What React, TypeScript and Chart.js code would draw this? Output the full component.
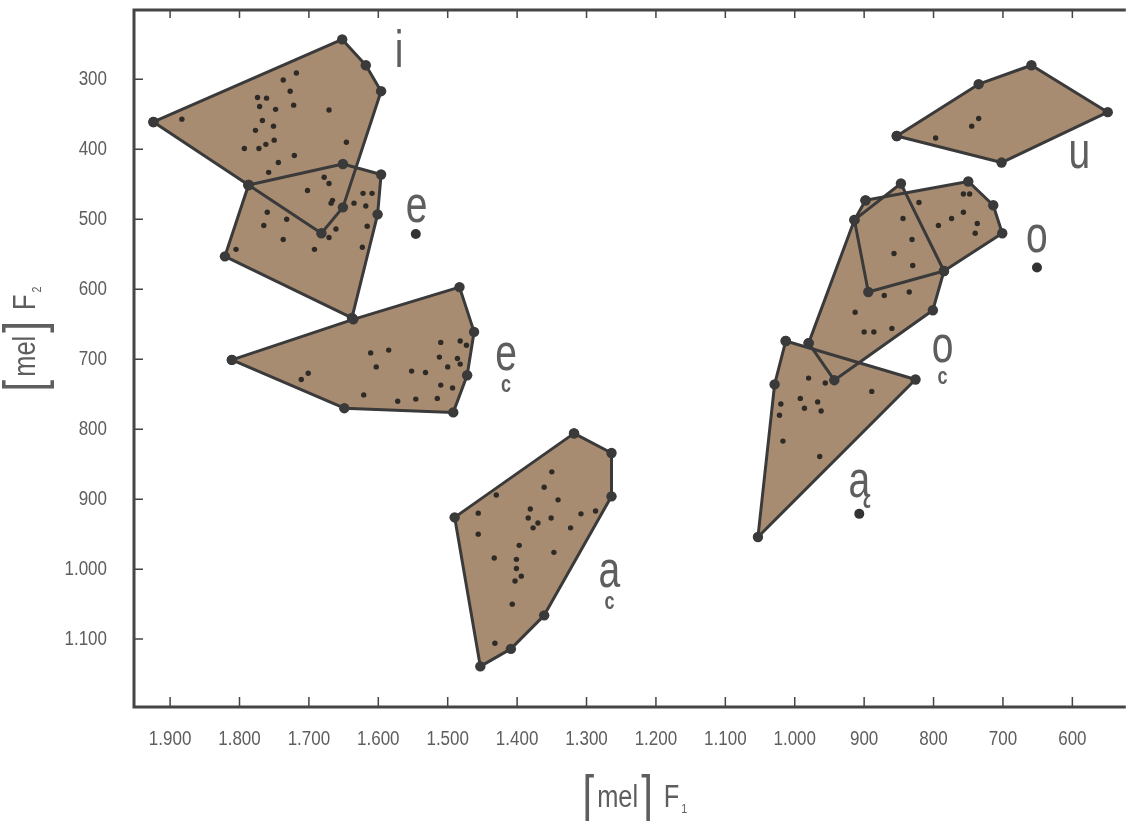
import React, { useEffect, useRef } from "react";
import { Chart, registerables } from "chart.js";

Chart.register(...registerables);

const FONT = '"Liberation Sans", "DejaVu Sans Condensed", sans-serif';
const FILL = "rgb(168,140,114)";
const EDGE = "#3a3a3a";
const AXIS = "#454545";
const TEXT = "#5e5e5e";

// Axis ticks
const xTickValues = [1900, 1800, 1700, 1600, 1500, 1400, 1300, 1200, 1100, 1000, 900, 800, 700, 600];
const xTickLabels = ["1.900", "1.800", "1.700", "1.600", "1.500", "1.400", "1.300", "1.200", "1.100", "1.000", "900", "800", "700", "600"];
const yTickValues = [300, 400, 500, 600, 700, 800, 900, 1000, 1100];
const yTickLabels = ["300", "400", "500", "600", "700", "800", "900", "1.000", "1.100"];

// Hull vertices (F1, F2 in mel)
const iHullF1 = [1924, 1652, 1618, 1596, 1651, 1682, 1787];
const iHullF2 = [361, 243, 280, 317, 483, 520, 451];
const eHullF1 = [1787, 1651, 1596, 1601, 1638, 1821];
const eHullF2 = [451, 421, 436, 493, 641, 553];
const eOpenHullF1 = [1811, 1636, 1483, 1462, 1472, 1492, 1649];
const eOpenHullF2 = [701, 643, 597, 661, 723, 776, 770];
const aOpenHullF1 = [1318, 1264, 1264, 1361, 1409, 1453, 1490];
const aOpenHullF2 = [806, 834, 896, 1066, 1114, 1139, 926];
const aHullF1 = [1013, 826, 1053, 1029];
const aHullF2 = [674, 729, 954, 736];
const oOpenHullF1 = [980, 914, 847, 785, 801, 943];
const oOpenHullF2 = [677, 501, 449, 574, 630, 730];
const oHullF1 = [898, 750, 714, 701, 785, 894, 914];
const oHullF2 = [473, 446, 480, 520, 574, 604, 501];
const uHullF1 = [853, 735, 659, 549, 702];
const uHullF2 = [381, 307, 280, 347, 419];

// Individual tokens
const iTokF1 = [1883, 1718, 1737, 1727, 1774, 1761, 1771, 1748, 1722, 1671, 1767, 1751, 1777, 1750, 1762, 1772, 1793, 1721, 1744, 1758, 1646];
const iTokF2 = [357, 291, 301, 317, 326, 327, 339, 343, 337, 344, 359, 367, 373, 387, 393, 399, 399, 409, 419, 433, 390];
const eTokF1 = [1678, 1671, 1702, 1622, 1609, 1666, 1668, 1635, 1618, 1760, 1732, 1765, 1661, 1671, 1616, 1737, 1805, 1692, 1623];
const eTokF2 = [440, 449, 459, 463, 463, 473, 477, 477, 481, 490, 500, 509, 514, 526, 510, 529, 543, 543, 540];
const eOpenTokF1 = [1701, 1711, 1611, 1585, 1603, 1510, 1482, 1473, 1512, 1486, 1482, 1500, 1552, 1532, 1510, 1493, 1621, 1572, 1546, 1515];
const eOpenTokF2 = [720, 729, 691, 687, 711, 676, 674, 680, 697, 699, 707, 711, 717, 719, 737, 741, 751, 760, 757, 756];
const aOpenTokF1 = [1350, 1361, 1341, 1430, 1456, 1381, 1384, 1370, 1377, 1351, 1308, 1287, 1323, 1456, 1397, 1347, 1433, 1401, 1401, 1394, 1403, 1407, 1432];
const aOpenTokF2 = [861, 883, 901, 894, 920, 914, 927, 934, 941, 927, 921, 917, 941, 950, 966, 976, 984, 986, 999, 1010, 1017, 1050, 1106];
const aTokF1 = [980, 956, 889, 992, 967, 986, 962, 1020, 1022, 1017, 964];
const aTokF2 = [727, 734, 746, 756, 761, 770, 774, 764, 780, 817, 839];
const oOpenTokF1 = [900, 886, 860, 871, 835, 913];
const oOpenTokF2 = [661, 661, 656, 609, 604, 633];
const oTokF1 = [821, 844, 831, 857, 830, 757, 748, 774, 757, 793, 737, 740];
const oTokF2 = [476, 499, 529, 549, 566, 464, 464, 499, 490, 509, 506, 520];
const uTokF1 = [735, 745, 797];
const uTokF2 = [356, 367, 384];

// Isolated mean markers
const meanF1 = [1546, 907, 651];
const meanF2 = [521, 921, 569];

// Vowel labels
const vowelLabels = ["i", "e", "e", "a", "ą", "o", "o", "u"];
const vowelMarks = ["", "", "c", "c", "", "c", "", ""];
const labelF1 = [1570, 1545, 1416, 1267, 907, 787, 651, 590];
const labelF2 = [283, 504, 716, 1026, 897, 704, 547, 427];

const pts = (f1: number[], f2: number[]) => f1.map((x, i) => ({ x, y: f2[i] }));
const closed = (f1: number[], f2: number[]) => {
  const p = pts(f1, f2);
  p.push(p[0]);
  return p;
};

const SQUEEZE = 0.82;

const drawParts = (ctx: CanvasRenderingContext2D, parts: { t: string; size: number; dy: number; gap: number; k: number }[]) => {
  let total = 0;
  const widths = parts.map((p) => {
    ctx.font = `${p.size}px ${FONT}`;
    const w = ctx.measureText(p.t).width * p.k;
    total += w + p.gap;
    return w;
  });
  let cx = -total / 2;
  parts.forEach((p, i) => {
    ctx.font = `${p.size}px ${FONT}`;
    ctx.save();
    ctx.translate(cx, p.dy);
    ctx.scale(p.k, 1);
    ctx.fillText(p.t, 0, 0);
    ctx.restore();
    cx += widths[i] + p.gap;
  });
};

const squeezedText = (ctx: CanvasRenderingContext2D, t: string, px: number, py: number, k: number) => {
  ctx.save();
  ctx.translate(px, py);
  ctx.scale(k, 1);
  ctx.fillText(t, 0, 0);
  ctx.restore();
};

const decor = {
  id: "decor",
  afterDraw(chart: any) {
    const { ctx, chartArea: a, scales } = chart;
    const x = scales.x;
    const y = scales.y;
    ctx.save();
    // frame
    ctx.strokeStyle = AXIS;
    ctx.lineWidth = 3;
    ctx.beginPath();
    ctx.moveTo(a.right, a.top);
    ctx.lineTo(a.left, a.top);
    ctx.lineTo(a.left, a.bottom);
    ctx.lineTo(a.right, a.bottom);
    ctx.stroke();
    // inward ticks
    ctx.lineWidth = 1.5;
    ctx.beginPath();
    xTickValues.forEach((v) => {
      const px = x.getPixelForValue(v);
      ctx.moveTo(px, a.bottom);
      ctx.lineTo(px, a.bottom - 10);
      ctx.moveTo(px, a.top);
      ctx.lineTo(px, a.top + 8);
    });
    yTickValues.forEach((v) => {
      const py = y.getPixelForValue(v);
      ctx.moveTo(a.left, py);
      ctx.lineTo(a.left + 9, py);
    });
    ctx.stroke();

    // tick labels
    ctx.fillStyle = TEXT;
    ctx.font = `20px ${FONT}`;
    ctx.textBaseline = "middle";
    ctx.textAlign = "center";
    xTickValues.forEach((v, i) => {
      squeezedText(ctx, xTickLabels[i], x.getPixelForValue(v), a.bottom + 32, 0.85);
    });
    ctx.textAlign = "right";
    yTickValues.forEach((v, i) => {
      squeezedText(ctx, yTickLabels[i], a.left - 27, y.getPixelForValue(v), 0.85);
    });

    // vowel labels
    ctx.textAlign = "center";
    ctx.textBaseline = "alphabetic";
    vowelLabels.forEach((t, i) => {
      const px = x.getPixelForValue(labelF1[i]);
      const py = y.getPixelForValue(labelF2[i]);
      ctx.save();
      ctx.translate(px, py);
      ctx.scale(0.75, 1);
      ctx.font = `52px ${FONT}`;
      ctx.fillText(t, 0, 0);
      if (vowelMarks[i]) {
        ctx.font = `bold 24px ${FONT}`;
        ctx.fillText(vowelMarks[i], 0, 22);
      }
      ctx.restore();
    });

    // axis titles
    ctx.textAlign = "left";
    ctx.textBaseline = "alphabetic";
    const titleParts = (sub: string) => [
      { t: "[", size: 56, dy: 17, gap: 3, k: 0.75 },
      { t: "mel", size: 31, dy: 10, gap: 3, k: SQUEEZE },
      { t: "]", size: 56, dy: 17, gap: 11, k: 0.75 },
      { t: "F", size: 31, dy: 10, gap: 2, k: SQUEEZE },
      { t: sub, size: 13, dy: 16, gap: 0, k: SQUEEZE },
    ];
    ctx.save();
    ctx.translate((a.left + a.right) / 2 + 5, 797);
    drawParts(ctx, titleParts("1"));
    ctx.restore();
    ctx.save();
    ctx.translate(25, 339);
    ctx.rotate(-Math.PI / 2);
    drawParts(ctx, titleParts("2"));
    ctx.restore();
    ctx.restore();
  },
};

export default function App() {
  const ref = useRef<HTMLCanvasElement>(null);
  useEffect(() => {
    if (!ref.current) return;
    const hulls = [
      [iHullF1, iHullF2],
      [eHullF1, eHullF2],
      [eOpenHullF1, eOpenHullF2],
      [aOpenHullF1, aOpenHullF2],
      [aHullF1, aHullF2],
      [oOpenHullF1, oOpenHullF2],
      [oHullF1, oHullF2],
      [uHullF1, uHullF2],
    ];
    const tokens = [
      [iTokF1, iTokF2],
      [eTokF1, eTokF2],
      [eOpenTokF1, eOpenTokF2],
      [aOpenTokF1, aOpenTokF2],
      [aTokF1, aTokF2],
      [oOpenTokF1, oOpenTokF2],
      [oTokF1, oTokF2],
      [uTokF1, uTokF2],
    ];
    const datasets: any[] = [];
    hulls.forEach(([f1, f2]) =>
      datasets.push({
        type: "line",
        data: closed(f1, f2),
        showLine: true,
        fill: "shape",
        backgroundColor: FILL,
        borderWidth: 0,
        borderColor: FILL,
        pointRadius: 0,
        tension: 0,
        order: 3,
      })
    );
    hulls.forEach(([f1, f2]) =>
      datasets.push({
        type: "line",
        data: closed(f1, f2),
        showLine: true,
        fill: false,
        borderColor: EDGE,
        borderWidth: 3,
        borderJoinStyle: "round",
        pointRadius: 5.2,
        pointBackgroundColor: EDGE,
        pointBorderWidth: 0,
        tension: 0,
        order: 2,
      })
    );
    tokens.forEach(([f1, f2]) =>
      datasets.push({
        type: "scatter",
        data: pts(f1, f2),
        showLine: false,
        pointRadius: 2.7,
        pointBackgroundColor: "#2e2a26",
        pointBorderWidth: 0,
        order: 1,
      })
    );
    datasets.push({
      type: "scatter",
      data: pts(meanF1, meanF2),
      showLine: false,
      pointRadius: 5,
      pointBackgroundColor: "#333",
      pointBorderWidth: 0,
      order: 1,
    });

    const zeroPad = (s: any) => {
      s.paddingTop = 0;
      s.paddingBottom = 0;
      s.paddingLeft = 0;
      s.paddingRight = 0;
    };

    const chart = new Chart(ref.current, {
      type: "scatter",
      data: { datasets },
      options: {
        responsive: false,
        animation: false,
        layout: { padding: { top: 10, right: 0, left: 0, bottom: 0 } },
        plugins: { legend: { display: false }, tooltip: { enabled: false } },
        scales: {
          x: {
            type: "linear",
            min: 523,
            max: 1952,
            reverse: true,
            afterFit: (s: any) => {
              s.height = 114;
              zeroPad(s);
            },
            afterBuildTicks: (s: any) => {
              s.ticks = xTickValues.map((v) => ({ value: v }));
            },
            grid: { display: false, drawTicks: false },
            border: { display: false },
            ticks: { display: false },
          },
          y: {
            type: "linear",
            min: 201,
            max: 1197,
            reverse: true,
            afterFit: (s: any) => {
              s.width = 134;
              zeroPad(s);
            },
            afterBuildTicks: (s: any) => {
              s.ticks = yTickValues.map((v) => ({ value: v }));
            },
            grid: { display: false, drawTicks: false },
            border: { display: false },
            ticks: { display: false },
          },
        },
      },
      plugins: [decor],
    } as any);
    return () => chart.destroy();
  }, []);

  return (
    <div style={{ position: "absolute", left: 0, top: 0, width: 1131, height: 821, background: "#fff" }}>
      <canvas ref={ref} width={1131} height={821} style={{ display: "block" }} />
    </div>
  );
}
